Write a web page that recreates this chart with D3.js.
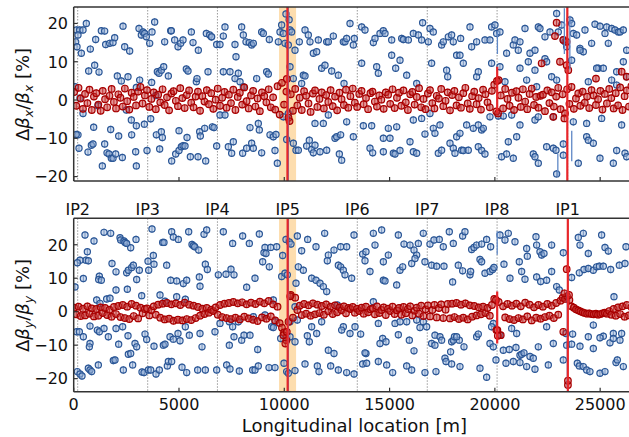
<!DOCTYPE html>
<html><head><meta charset="utf-8">
<script src="https://cdn.jsdelivr.net/npm/d3@7"></script>
<style>body{margin:0;background:#fff}svg{display:block}text{font-family:"DejaVu Sans",sans-serif;fill:#111}</style>
</head><body><svg id="c" width="629" height="437"></svg>
<script>
// ---------------- data ----------------
const ipNames = ["IP2","IP3","IP4","IP5","IP6","IP7","IP8","IP1"];
const ipS = [190,3514,6825,10160,13467,16790,20105,23456];
const xTicks = [0,5000,10000,15000,20000,25000];
const yTicks = [-20,-10,0,10,20];
const ip5Band = [9750,10560];

// measured beta-beating (blue), horizontal plane [s (m), %]
const blueTop = [
[125,18.3],[284,18.3],[204,17.0],[94,15.2],[157,13.9],[363,12.2],[600,20.0],[442,18.3],[790,13.3],[711,7.6],[996,9.1],[1043,15.8],[1202,7.3],[1313,18.1],[1471,18.0],[1518,14.5],[1708,14.8],[1867,15.0],[1946,16.3],[2072,6.3],[2262,5.0],[2342,19.3],[2420,13.9],[2579,6.1],[2658,12.8],[2975,3.3],[3101,18.7],[3133,5.2],[3212,17.0],[3291,17.8],[3370,17.4],[3450,16.5],[3608,14.8],[3703,4.6],[3719,17.8],[3845,20.4],[3972,7.4],[4051,7.0],[4162,7.8],[4273,8.7],[4320,15.2],[4494,6.3],[4605,18.1],[4637,18.1],[4795,15.7],[4954,13.9],[5080,14.8],[5191,15.7],[5349,8.1],[5428,7.6],[5587,17.8],[5666,15.0],[5824,4.8],[5856,5.6],[5919,13.0],[6299,17.4],[6378,7.4],[6457,17.0],[6537,16.5],
[442,-3.5],[948,-7.1],[2500,-2.6],[2737,-5.2],[2975,-6.7],[3355,-6.3],[3656,-4.9],[1756,-7.7],[2136,-9.4],[2753,-9.1],[3925,-9.1],[4162,-8.3],[4210,-9.8],[5001,-8.0],[5381,-9.8],[5982,-8.3],[6014,-9.4],[6220,-7.4],[6584,-7.0],[204,-9.1],[252,-12.6],[838,-11.8],[917,-11.5],[679,-13.6],[1471,-11.5],[1582,-13.8],[1677,-14.1],[1787,-15.2],[1867,-15.2],[1993,-14.1],[2310,-15.0],[2943,-13.5],[2975,-17.2],[3481,-13.2],[4083,-12.8],[4653,-15.9],[4843,-14.1],[5001,-13.2],[5112,-12.2],[5191,-11.9],[5286,-12.0],[5540,-14.8],[5904,-14.8],[6268,-15.9],[1360,-17.2],
[60,3.5],[300,0.5],[1150,-1.5],[3900,1.2],[120,-9.0],
[6551,16.5],[6789,14.5],[6947,14.5],[7105,16.7],[7184,19.1],[7659,14.5],[7707,11.3],[7976,19.1],[8055,17.0],[8182,15.2],[8340,15.0],[8451,14.4],[8530,14.8],[8926,17.8],[9005,17.4],[9290,15.8],[9717,15.2],[9796,17.8],[9875,19.6],[9955,17.4],[10034,14.8],[10192,14.4],[10271,18.3],[10350,17.8],[10509,13.0],[10714,15.2],[10984,18.3],[11142,17.0],[11221,15.2],[11379,12.2],[11538,12.6],[11617,15.7],[12013,15.2],[12092,15.2],[12329,16.7],[12804,15.2],[12883,15.2],[12962,16.1],[13121,20.0],[13279,14.4],[13326,16.1],[13675,19.1],[13833,18.3],[14229,15.0],[14308,16.1],[14545,17.4],[14704,18.1],[14783,17.4],[15100,15.7],[15575,16.1],[15654,15.8],[15891,15.7],[16128,17.4],[16366,17.0],[10080,22.5],[10230,21.0],
[7105,7.4],[7422,7.4],[7659,5.6],[7818,7.0],[7897,4.8],[8055,3.5],[8688,5.6],[9163,7.4],[9242,6.8],[10271,8.7],[10430,5.6],[10825,4.3],[10904,6.5],[10984,6.3],[11775,8.3],[11933,9.1],[12250,7.6],[12567,6.5],[12836,4.3],[13675,9.6],[14387,8.7],[14466,7.0],[15100,11.7],[15289,8.3],[15495,10.4],[15812,6.5],[16287,4.3],
[6947,-3.9],[7184,-3.9],[6662,-7.2],[8372,-7.2],[8767,-6.1],[8815,-7.8],[9321,-9.1],[9480,-9.6],[9606,-9.0],[9955,-4.4],[10192,-3.5],[11458,-6.1],[11854,-6.1],[12092,-3.9],[12962,-5.7],[13754,-6.7],[14150,-6.7],[14941,-7.4],[15337,-7.0],[16128,-5.2],
[6789,-12.0],[7343,-12.2],[7580,-10.9],[7501,-13.9],[8023,-13.9],[8213,-12.6],[8451,-11.3],[8530,-12.6],[8926,-13.8],[9559,-13.2],[9670,-16.5],[10113,-10.3],[10430,-11.3],[10556,-13.1],[10667,-13.1],[11063,-12.0],[11189,-10.5],[11300,-12.9],[11458,-11.8],[11379,-13.8],[11696,-13.5],[12013,-13.1],[12408,-10.0],[12487,-9.6],[12677,-9.1],[12614,-14.1],[12725,-15.7],[13279,-9.6],[14070,-12.6],[14197,-13.8],[14704,-10.0],[15020,-10.0],[14704,-13.5],[15179,-13.9],[15258,-14.1],[15495,-13.2],[15970,-10.9],[16128,-13.5],[16287,-13.9],
[16570,20.2],[16918,18.7],[17076,17.8],[16522,15.7],[16839,15.2],[17472,14.4],[17551,15.2],[17789,16.5],[17947,17.0],[18026,15.2],[18374,16.1],[18818,19.1],[18897,13.9],[19134,15.2],[19530,15.7],[19767,15.7],[19846,19.1],[20005,19.6],[20084,17.4],[20242,17.8],[20559,12.2],[20875,14.4],[20955,15.7],[21113,13.0],[21192,15.2],[21430,18.7],[21667,12.2],[21904,13.0],[22063,19.1],[22142,18.7],[22379,16.5],[22617,17.8],[22933,22.6],[23012,17.8],[23171,19.6],[23250,15.7],[23329,15.2],[23408,13.9],[23567,20.9],[23646,20.0],[23725,17.4],[23883,17.0],[24042,13.5],[24200,12.6],[24279,18.3],[24595,14.8],[24754,19.8],[24991,19.3],[25229,17.4],[25308,19.1],[25387,14.8],[25545,18.7],[25704,18.3],[25862,17.8],[25941,17.8],[26100,18.3],[26258,13.0],[26100,10.0],[24912,8.3],[25150,8.3],[25783,7.4],[26258,6.1],
[16997,9.6],[17709,7.8],[17760,6.1],[18184,11.7],[18343,11.7],[18501,9.6],[19134,6.1],[19213,7.4],[19846,9.6],[20242,8.7],[20480,4.8],[21192,8.3],[21509,5.2],[21588,10.0],[21904,7.8],[21984,3.5],[22379,10.8],[22458,10.0],[22696,6.1],[22933,5.2],[23646,10.4],[24042,13.0],[24437,4.8],[24833,8.3],[25545,5.2],[25783,3.9],
[16522,-4.8],[16918,-3.5],[17076,-7.4],[17155,-8.7],[16680,-8.9],[17393,-6.5],[18184,-9.6],[18343,-8.7],[18659,-6.5],[18976,-7.4],[19213,-6.5],[19372,-7.8],[19451,-7.4],[19767,-4.4],[20163,-4.2],[20401,-4.2],[20796,-3.9],[21192,-6.5],[21904,-5.2],[22063,-4.4],[22775,-4.4],[23725,-5.7],[24358,-6.1],[25070,-4.8],[26020,-6.5],
[17314,-13.9],[17472,-13.1],[17868,-11.3],[18026,-12.6],[18105,-13.9],[18422,-13.1],[18501,-13.2],[18738,-13.1],[19213,-12.2],[19372,-13.2],[19530,-14.1],[20321,-14.8],[20559,-14.1],[20638,-10.9],[20875,-15.2],[21034,-9.6],[21825,-14.1],[21904,-14.8],[22063,-16.5],[22458,-12.2],[22775,-12.6],[22902,-13.1],[22933,-19.3],[23250,-11.5],[23250,-14.4],[23962,-16.5],[24358,-9.6],[24437,-10.5],[24675,-11.3],[24991,-15.2],[25625,-16.5],[25783,-13.2],[26179,-13.9],[26258,-14.8]
];

// measured beta-beating (blue), vertical plane [s (m), %]
const blueBottom = [
[537,22.9],[964,21.1],[1439,23.7],[1756,23.4],[2199,22.1],[2230,21.4],[2389,21.1],[2436,20.7],[2515,20.4],[2706,19.1],[2959,21.6],[3718,24.7],[3782,16.8],[4225,20.7],[4288,20.7],[4652,23.9],[4732,22.3],[4969,21.6],[5460,23.9],[5618,20.1],[5681,19.7],[5745,19.4],[5935,18.4],[6188,23.1],[6315,24.4],
[648,17.9],[584,15.4],[299,15.4],[173,14.6],[695,15.2],[1217,10.6],[1186,9.6],[1312,9.4],[1819,14.4],[2009,11.9],[2515,11.6],[2595,12.4],[2753,13.2],[2832,13.9],[2990,9.6],[3117,12.4],[3529,15.1],[3560,12.4],[3813,14.2],[4415,13.9],[4605,9.4],[4890,9.2],[5207,8.4],[5365,9.4],[5966,10.4],[5998,7.6],[6251,14.2],[6346,12.6],
[62,7.4],[458,9.9],[1091,3.5],[1249,2.5],[1566,3.8],[1724,4.0],[2009,6.5],[2547,6.7],[3228,4.8],[4098,5.0],[4336,3.1],[4890,4.5],[5301,3.7],
[141,-6.0],[268,-6.0],[458,-7.5],[774,-4.3],[1122,-5.5],[1217,-6.0],[1439,-5.0],[1645,-7.5],[2009,-5.0],[2325,-4.5],[2579,-7.2],[2911,-9.5],[2990,-10.5],[3386,-6.7],[3465,-8.3],[3813,-10.3],[4257,-10.0],[4336,-9.7],[4573,-7.5],[4732,-8.2],[4953,-6.5],[5048,-8.7],[5301,-4.5],[5491,-7.0],[5998,-6.5],[6093,-10.5],
[774,-9.5],[743,-10.5],[1170,-15.9],[1882,-14.6],[1961,-14.4],[2135,-9.7],[2357,-17.4],[2595,-12.7],[2706,-12.5],[2800,-15.9],[3244,-18.0],[3339,-18.2],[3544,-17.4],[3655,-17.4],[3908,-18.6],[4067,-17.4],[4447,-16.2],[4494,-14.9],[4652,-14.9],[5143,-16.6],[5365,-18.2],[5887,-17.4],[6251,-17.4],
[173,-17.9],[299,-18.6],[394,-19.2],[695,-16.9],[774,-17.4],[853,-17.9],
[7105,23.9],[7548,20.4],[8023,22.6],[8340,20.4],[8815,23.2],[9084,19.2],[9036,17.6],[9131,17.4],[9353,19.2],[9638,19.4],[9923,16.8],[10081,21.6],[10240,20.8],[10319,20.2],[10620,22.6],[10825,18.2],[11110,21.6],[11506,19.4],[11918,23.4],[12092,16.9],[12044,15.2],[12361,18.4],[12677,19.4],[12962,19.4],[13311,22.9],[13722,17.2],[13880,17.9],[14229,23.4],[14308,19.9],[14624,24.4],[14941,16.9],[14704,9.4],[15416,22.9],[15685,20.2],[15970,19.9],[16160,18.4],[16287,16.9],[16366,20.4],
[6868,11.0],[7232,11.2],[7469,12.7],[7612,11.0],[8213,7.3],[8609,10.0],[8973,14.9],[9290,13.4],[9875,10.5],[10034,11.5],[10145,11.0],[10556,8.5],[10667,13.4],[10904,12.4],[11300,10.0],[11506,9.4],[11696,8.5],[11854,7.5],[12013,6.0],[12567,13.9],[12677,13.4],[12804,12.4],[12883,11.0],[13200,10.0],[13833,15.2],[14070,12.0],[14704,14.9],[14783,9.2],[15495,12.4],[15622,13.4],[15337,8.0],[16049,14.4],[16208,15.9],
[6947,-3.5],[7390,-3.0],[7548,-4.5],[7818,-3.0],[8530,-1.5],[9084,-1.0],[9480,3.5],[9559,-3.0],[10271,-3.0],[10509,1.5],[10620,-2.5],[11300,-4.5],[11775,-3.0],[12519,2.0],[12804,-4.5],[13121,-6.5],[13358,-4.5],[14229,3.0],[14466,-3.5],[15258,-3.5],[15495,-3.0],[15812,-3.0],[16287,-2.5],
[6709,-6.0],[7390,-10.0],[7612,-7.5],[7976,-8.5],[8087,-7.0],[8372,-7.0],[8736,-11.3],[9401,-4.5],[9480,-4.7],[9828,-8.0],[10081,-7.8],[10271,-7.5],[10509,-9.0],[11094,-7.2],[11189,-9.0],[11538,-6.5],[12092,-11.5],[12361,-12.5],[12725,-5.5],[13627,-6.7],[13880,-12.5],[13833,-12.3],[14672,-8.0],[14545,-9.5],[14830,-9.0],[15416,-6.9],[15938,-8.5],[16160,-11.7],
[6789,-17.4],[7264,-15.9],[7422,-17.1],[7865,-17.7],[8498,-17.4],[8609,-17.4],[8767,-16.2],[9274,-16.7],[9559,-16.7],[9986,-15.4],[10113,-17.9],[10192,-18.4],[10509,-17.6],[10984,-15.6],[11569,-16.2],[11648,-17.9],[12203,-16.2],[12567,-17.4],[12962,-18.2],[13311,-18.6],[13722,-15.6],[13912,-15.4],[14466,-14.9],[14862,-15.9],[15147,-18.2],[15812,-16.2],[16049,-17.4],
[16601,23.4],[16918,20.2],[17108,21.4],[17361,21.6],[17551,19.4],[17836,23.9],[18026,20.4],[18469,22.6],[18580,23.9],[18897,18.6],[19007,19.2],[19134,19.9],[19372,20.2],[19609,21.6],[19799,19.4],[20242,22.9],[20480,21.4],[20638,23.4],[20955,20.9],[21509,18.9],[21952,22.4],[21984,19.9],[22142,17.9],[22221,16.9],[22332,17.4],[22696,19.9],[23250,17.6],[23962,22.2],[24042,19.9],[24200,23.4],[24437,17.4],[25070,22.9],[25229,19.2],[25387,18.1],[26226,19.4],
[16680,14.9],[16997,13.9],[17235,13.6],[17583,13.6],[17994,8.9],[18263,13.9],[18469,12.2],[18818,11.0],[18849,12.0],[19293,15.6],[19372,14.9],[19530,11.5],[19767,12.0],[19894,12.6],[19957,13.2],[20432,14.2],[20717,10.0],[21160,14.9],[21271,12.0],[21430,9.7],[21541,16.6],[21984,10.4],[22174,9.0],[22458,9.4],[22696,12.0],[22933,7.5],[23060,6.5],[23646,10.2],[24010,11.6],[24231,12.6],[24437,12.9],[24675,12.4],[24833,13.4],[24960,13.6],[25150,13.6],[25498,12.6],[25656,4.5],[25910,13.9],[26179,14.4],
[16443,-4.7],[16601,-3.0],[16760,-4.5],[17155,-7.0],[17393,-7.5],[17947,-9.0],[18026,-8.5],[18311,-8.5],[19134,-7.5],[19926,-3.5],[19846,-4.5],[20242,-7.0],[20796,-5.0],[21034,-6.5],[22458,-4.5],[23376,-6.5],[23693,-6.7],[24042,-10.3],[24437,-7.5],[24675,-4.0],[25150,-7.3],[25625,-6.5],[26020,-6.5],
[16997,-9.5],[17155,-10.0],[17472,-8.5],[18080,-7.5],[18184,-7.5],[18533,-10.5],[19213,-6.7],[19767,-9.5],[19926,-10.5],[20401,-11.5],[20685,-11.3],[21002,-10.7],[21192,-13.0],[21271,-12.7],[21382,-12.3],[21667,-13.4],[21825,-13.9],[22063,-10.5],[22775,-9.5],[23408,-10.0],[23646,-9.7],[24675,-11.0],[24991,-7.8],[25466,-9.3],[25625,-8.0],[25941,-8.5],
[16680,-18.2],[17203,-17.9],[17630,-13.9],[17678,-14.9],[17947,-15.6],[17899,-12.0],[18343,-16.4],[19293,-16.9],[19609,-19.6],[20052,-14.4],[20527,-15.4],[20875,-14.9],[21192,-15.2],[21509,-16.4],[21904,-17.2],[22538,-15.9],[23250,-14.4],[23915,-15.4],[24010,-16.2],[24200,-16.4],[24358,-17.4],[24516,-17.9],[24991,-18.4],[25229,-17.9],[25751,-15.2],[25815,-14.4],[26100,-16.4]
];

// corrected beta-beating (red), at BPM locations
const bpmS = [
20,120,230,330,440,540,650,750,860,960,1070,1170,1280,1380,1490,1590,1700,1800,1910,2010,
2120,2220,2330,2430,2540,2640,2750,2850,2960,3060,3170,3270,3380,3480,3590,3690,3800,3900,4010,4110,
4220,4320,4430,4530,4640,4740,4850,4950,5060,5160,5270,5370,5480,5580,5690,5790,5900,6000,6110,6210,
6320,6420,6530,6630,6740,6840,6950,7050,7160,7260,7370,7470,7580,7680,7790,7890,8000,8100,8210,8310,
8420,8520,8630,8730,8840,8940,9050,9150,9260,9360,9470,9570,9680,9780,9890,9990,10100,10200,10310,10410,
10520,10620,10730,10830,10940,11040,11150,11250,11360,11460,11570,11670,11780,11880,11990,12090,12200,12300,12410,12510,
12620,12720,12830,12930,13040,13140,13250,13350,13460,13560,13670,13770,13880,13980,14090,14190,14300,14400,14510,14610,
14720,14820,14930,15030,15140,15240,15350,15450,15560,15660,15770,15870,15980,16080,16190,16290,16400,16500,16610,16710,
16820,16920,17030,17130,17240,17340,17450,17550,17660,17760,17870,17970,18080,18180,18290,18390,18500,18600,18710,18810,
18920,19020,19130,19230,19340,19440,19550,19650,19760,19860,19970,20070,20180,20280,20390,20490,20600,20700,20810,20910,
21020,21120,21230,21330,21440,21540,21650,21750,21860,21960,22070,22170,22280,22380,22490,22590,22700,22800,22910,23010,
23120,23220,23330,23430,23540,23640,23750,23850,23960,24060,24170,24270,24380,24480,24590,24690,24800,24900,25010,25110,
25220,25320,25430,25530,25640,25740,25850,25950,26060,26160,26270,26370,26480,26580
];
const redTop = [
2.1,-1.5,3.2,0.4,-2.3,1.6,-0.8,2.7,-2.6,0.9,
1.8,-1.2,-2.8,2.4,0.2,-1.9,1.1,2.9,-0.5,-2.2,
1.5,0.6,-1.7,3.0,-0.3,-2.5,1.9,0.8,-1.4,2.2,
3.4,-0.9,1.2,2.6,-1.8,0.3,2.0,-2.4,1.4,-0.6,
2.8,-1.3,0.7,-2.7,1.7,2.3,-0.2,-1.6,3.1,0.5,
-2.1,1.3,2.5,-0.7,-1.9,0.9,2.2,-2.8,1.0,-0.4,
2.6,-1.1,1.8,-2.3,0.1,3.0,-1.5,0.6,2.1,-2.0,
1.4,-0.8,2.7,-2.6,0.8,1.9,-1.2,3.3,-0.3,-2.2,
1.2,2.4,-1.7,0.4,-2.9,2.0,1.0,-0.6,2.8,-1.9,
0.7,-2.5,3.6,-3.8,4.5,-1.2,2.2,-4.6,1.5,-2.8,
2.9,-1.4,0.6,-2.6,2.3,1.1,-0.9,-3.1,1.7,2.5,
-1.8,0.3,2.0,-2.2,1.3,-0.5,2.6,-1.6,0.9,-2.7,
1.9,0.2,-1.3,2.7,-2.0,1.0,3.0,-0.7,-1.8,1.6,
2.4,-1.1,0.5,-2.4,1.8,2.2,-0.4,-1.7,1.2,0.1,
-2.3,2.0,1.4,-1.0,2.8,-2.1,0.6,1.9,-1.5,2.5,
-0.6,-2.6,1.5,2.1,-1.2,0.8,3.1,-1.9,0.3,-2.4,
1.7,2.6,-0.8,-2.2,1.1,0.4,2.9,-1.6,-0.2,2.0,
-2.7,1.3,2.4,-1.4,0.7,-2.0,1.8,3.2,-0.9,-2.3,
1.0,2.2,-1.1,0.5,-2.5,2.7,1.5,-0.6,-1.9,2.4,
4.0,-3.0,5.2,1.2,-2.2,2.9,0.3,-1.5,1.9,-2.6,
2.3,0.6,-1.8,2.8,-0.4,-2.4,1.6,3.0,-1.3,0.8,
-2.0,1.1,1.4,-2.9,2.5,-0.8,2.0,-1.7,0.9,3.2,
-2.4,1.5,-3.5,2.8,-1.0,3.4,-2.3,0.4,1.7,-1.5,
2.2,-0.7,0.9,-2.1,2.6,1.2,-1.3,0.2,2.4,-2.5,
1.6,-0.9,2.9,0.5,-2.2,1.8,-1.4,3.3,-2.6,1.0,
2.5,-1.7,3.6,-0.5
];
const redBottom = [
1.2,-0.8,1.5,-1.3,0.9,-1.1,1.6,-0.6,1.0,-1.4,
0.8,-1.2,1.3,-0.4,1.1,-1.0,0.6,-1.5,1.4,-0.7,
1.7,-1.6,2.0,-1.9,1.5,-2.2,2.3,-1.3,1.8,-2.0,
1.2,-0.5,0.8,1.0,-1.1,0.4,1.6,-0.9,2.1,-1.8,
2.4,-2.3,2.6,-2.1,2.2,-2.7,2.5,-2.4,2.0,-2.6,
2.7,-2.2,2.1,-2.5,1.8,-1.9,1.4,-1.2,0.9,-0.7,
1.1,-0.3,0.6,0.2,1.3,-0.9,2.0,-1.6,2.4,-1.9,
2.6,-2.2,2.9,-1.8,2.5,-2.3,2.8,-1.5,2.2,-2.0,
2.7,-2.4,2.3,-2.8,3.0,-1.7,2.5,-2.1,3.2,-1.4,
2.2,-2.6,1.5,-3.4,-4.8,-6.2,-8.5,-3.0,5.0,-1.8,
4.2,0.5,1.8,-1.0,2.3,-0.6,1.9,-1.2,2.5,-0.8,
2.1,-0.4,1.7,-0.9,2.2,0.1,1.5,-0.7,1.9,-0.2,
1.3,0.4,1.6,-0.5,1.1,0.8,1.4,-0.3,0.9,0.2,
1.2,-0.6,1.5,-0.2,0.7,1.0,-0.8,1.6,-0.4,0.5,
1.3,-1.0,0.9,0.2,1.5,-0.7,0.4,1.1,-0.9,1.4,
-0.5,0.8,1.6,-1.1,0.3,1.2,-0.6,1.8,-1.3,0.7,
1.9,-1.4,0.5,2.0,-1.7,1.1,2.2,-1.9,0.6,2.3,
-2.0,2.4,-1.6,2.6,-2.2,2.1,-1.8,2.5,-2.3,1.9,
-1.5,1.7,-1.1,1.3,-0.8,1.5,-0.4,1.1,-1.2,2.0,
3.8,-5.5,2.9,-7.0,1.6,-1.7,2.3,-2.2,1.8,-2.5,
2.4,-1.9,1.6,-2.3,2.7,-1.4,2.1,-2.6,1.3,-1.8,
2.0,-2.1,1.5,-1.6,2.3,-1.2,1.8,-1.9,2.6,-0.9,
3.3,4.2,3.8,4.6,3.5,1.6,1.2,0.7,0.4,0.1,
-0.2,-0.4,-0.6,-0.5,-0.7,-0.8,-0.6,-0.9,-0.7,-0.5,
-0.3,-0.6,0.2,-0.9,0.8,-1.2,1.3,-0.7,1.6,-1.5,
2.0,-1.1,1.4,0.3
];
// extra corrected points off the BPM grid (outliers near the IPs)
const redTopExtra = [[22221,9.6],[22775,-4.4],[22854,16.7],[22933,20.2],[23092,10.0],[23250,15.7],[23408,15.2],[23408,9.1],[23487,7.8],[23300,-4.8],[24800,5.6],[26020,7.4],[26258,6.1],[20100,5.0],[20150,-3.5],[10120,5.5],[10250,-5.5]];
const redBottomExtra = [[23410,12.7],[23250,-6.0],[23470,-21.9],[23470,-20.6],[23300,5.5],[23520,5.0],[10280,4.6],[10050,-9.5],[9960,-7.0],[10120,-6.0],[20120,-5.5],[20140,-7.2],[20050,3.5]];
// long error bars [s, low, high]
const redBarsTop = [[10150,-30,30],[23440,-30,30],[20110,-3.5,8.7]];
const blueBarsTop = [[10190,-30,30],[23300,12,24],[23560,8,22],[23650,-16,-8],[22990,-20,-14],[20120,12,18]];
const redBarsBottom = [[10160,-30,30],[23465,-30,30],[20110,-9.5,6]];
const blueBarsBottom = [[10195,-30,30],[20110,17,24],[23440,-23,6.5]];

// ---------------- drawing ----------------
const svg = d3.select("#c");
const x = d3.scaleLinear().domain([0,26659]).range([73.7,635.1]);
const BLUE_S="#2b5797", BLUE_F="#9bb5dc", RED_S="#a80000", RED_F="#c83232";

const panels = [
  {id:"t", y:d3.scaleLinear().domain([-21.15,24.3]).range([181,7]), blue:blueTop,
   red:bpmS.map((s,i)=>[s,redTop[i]]).filter(d=>d[1]!==undefined).concat(redTopExtra),
   rb:redBarsTop, bb:blueBarsTop, label:"x", cy:94.5, xlabels:false},
  {id:"b", y:d3.scaleLinear().domain([-23.9,27.9]).range([391.7,218.3]), blue:blueBottom,
   red:bpmS.map((s,i)=>[s,redBottom[i]]).filter(d=>d[1]!==undefined).concat(redBottomExtra),
   rb:redBarsBottom, bb:blueBarsBottom, label:"y", cy:305.5, xlabels:true}
];

const defs = svg.append("defs");
panels.forEach(p=>{
  const [y0,y1]=p.y.range();
  defs.append("clipPath").attr("id","clip"+p.id).append("rect")
    .attr("x",x.range()[0]).attr("y",y1).attr("width",x.range()[1]-x.range()[0]).attr("height",y0-y1);
});

panels.forEach(p=>{
  const [yb,yt]=p.y.range();
  const g = svg.append("g").attr("clip-path","url(#clip"+p.id+")");
  g.append("rect").attr("x",x(ip5Band[0])).attr("width",x(ip5Band[1])-x(ip5Band[0]))
    .attr("y",yt).attr("height",yb-yt).attr("fill","#fcd49a").attr("opacity",0.8);
  g.selectAll("line.ip").data(ipS).join("line").attr("class","ip")
    .attr("x1",d=>x(d)).attr("x2",d=>x(d)).attr("y1",yt).attr("y2",yb)
    .attr("stroke","#9a9a9a").attr("stroke-width",1).attr("stroke-dasharray","1.5,1.5");
  const drawPts = (data, sc, fc, fo, r) => {
    const pg = g.append("g");
    pg.selectAll("line").data(data).join("line")
      .attr("x1",d=>x(d[0])).attr("x2",d=>x(d[0]))
      .attr("y1",d=>p.y(d[1])-3.7).attr("y2",d=>p.y(d[1])+3.7)
      .attr("stroke",sc).attr("stroke-width",1).attr("stroke-opacity",0.85);
    pg.selectAll("circle").data(data).join("circle")
      .attr("cx",d=>x(d[0])).attr("cy",d=>p.y(d[1])).attr("r",r)
      .attr("fill",fc).attr("fill-opacity",fo).attr("stroke",sc).attr("stroke-width",1.2);
  };
  drawPts(p.blue, BLUE_S, BLUE_F, 0.5, 3.1);
  drawPts(p.red, RED_S, RED_F, 0.5, 3.3);
  g.selectAll("line.bb").data(p.bb).join("line").attr("class","bb")
    .attr("x1",d=>x(d[0])).attr("x2",d=>x(d[0])).attr("y1",d=>p.y(d[1])).attr("y2",d=>p.y(d[2]))
    .attr("stroke","#5f88c6").attr("stroke-width",1.3);
  g.selectAll("line.rb").data(p.rb).join("line").attr("class","rb")
    .attr("x1",d=>x(d[0])).attr("x2",d=>x(d[0])).attr("y1",d=>p.y(d[1])).attr("y2",d=>p.y(d[2]))
    .attr("stroke","#e8262a").attr("stroke-width",2.2);

  const fr = svg.append("g").attr("stroke","#333").attr("stroke-width",1.5).attr("fill","none");
  fr.append("line").attr("x1",x.range()[0]).attr("x2",640).attr("y1",yt).attr("y2",yt);
  fr.append("line").attr("x1",x.range()[0]).attr("x2",640).attr("y1",yb).attr("y2",yb);
  fr.append("line").attr("x1",x.range()[0]).attr("x2",x.range()[0]).attr("y1",yt).attr("y2",yb);
  fr.selectAll("line.xt").data(xTicks).join("line").attr("class","xt")
    .attr("x1",d=>x(d)).attr("x2",d=>x(d)).attr("y1",yb).attr("y2",yb-4).attr("stroke-width",1.2);
  fr.selectAll("line.yt").data(yTicks).join("line").attr("class","yt")
    .attr("x1",x.range()[0]).attr("x2",x.range()[0]+4).attr("y1",d=>p.y(d)).attr("y2",d=>p.y(d)).attr("stroke-width",1.2);
  svg.append("g").selectAll("text").data(yTicks).join("text")
    .attr("x",68).attr("y",d=>p.y(d)).attr("dy","0.36em").attr("text-anchor","end")
    .attr("font-size",16).text(d=>d<0?"\u2212"+Math.abs(d):String(d));
  if(p.xlabels){
    svg.append("g").selectAll("text").data(xTicks).join("text")
      .attr("x",d=>x(d)).attr("y",410).attr("text-anchor","middle").attr("font-size",16).text(d=>String(d));
  }
  const t = svg.append("text").attr("transform",`translate(29,${p.cy}) rotate(-90)`)
    .attr("text-anchor","middle").attr("font-size",18);
  t.append("tspan").text("\u0394");
  t.append("tspan").attr("font-style","italic").text("\u03b2");
  t.append("tspan").attr("font-style","italic").attr("font-size",12.6).attr("dy",4).text(p.label);
  t.append("tspan").attr("dy",-4).text("/");
  t.append("tspan").attr("font-style","italic").text("\u03b2");
  t.append("tspan").attr("font-style","italic").attr("font-size",12.6).attr("dy",4).text(p.label);
  t.append("tspan").attr("dy",-4).text(" [%]");
});

svg.append("g").selectAll("text").data(ipNames).join("text")
  .attr("x",(d,i)=>x(ipS[i])).attr("y",215).attr("text-anchor","middle").attr("font-size",16).text(d=>d);
svg.append("text").attr("x",(x.range()[0]+x.range()[1])/2).attr("y",432).attr("text-anchor","middle")
  .attr("font-size",18).text("Longitudinal location [m]");
</script></body></html>
